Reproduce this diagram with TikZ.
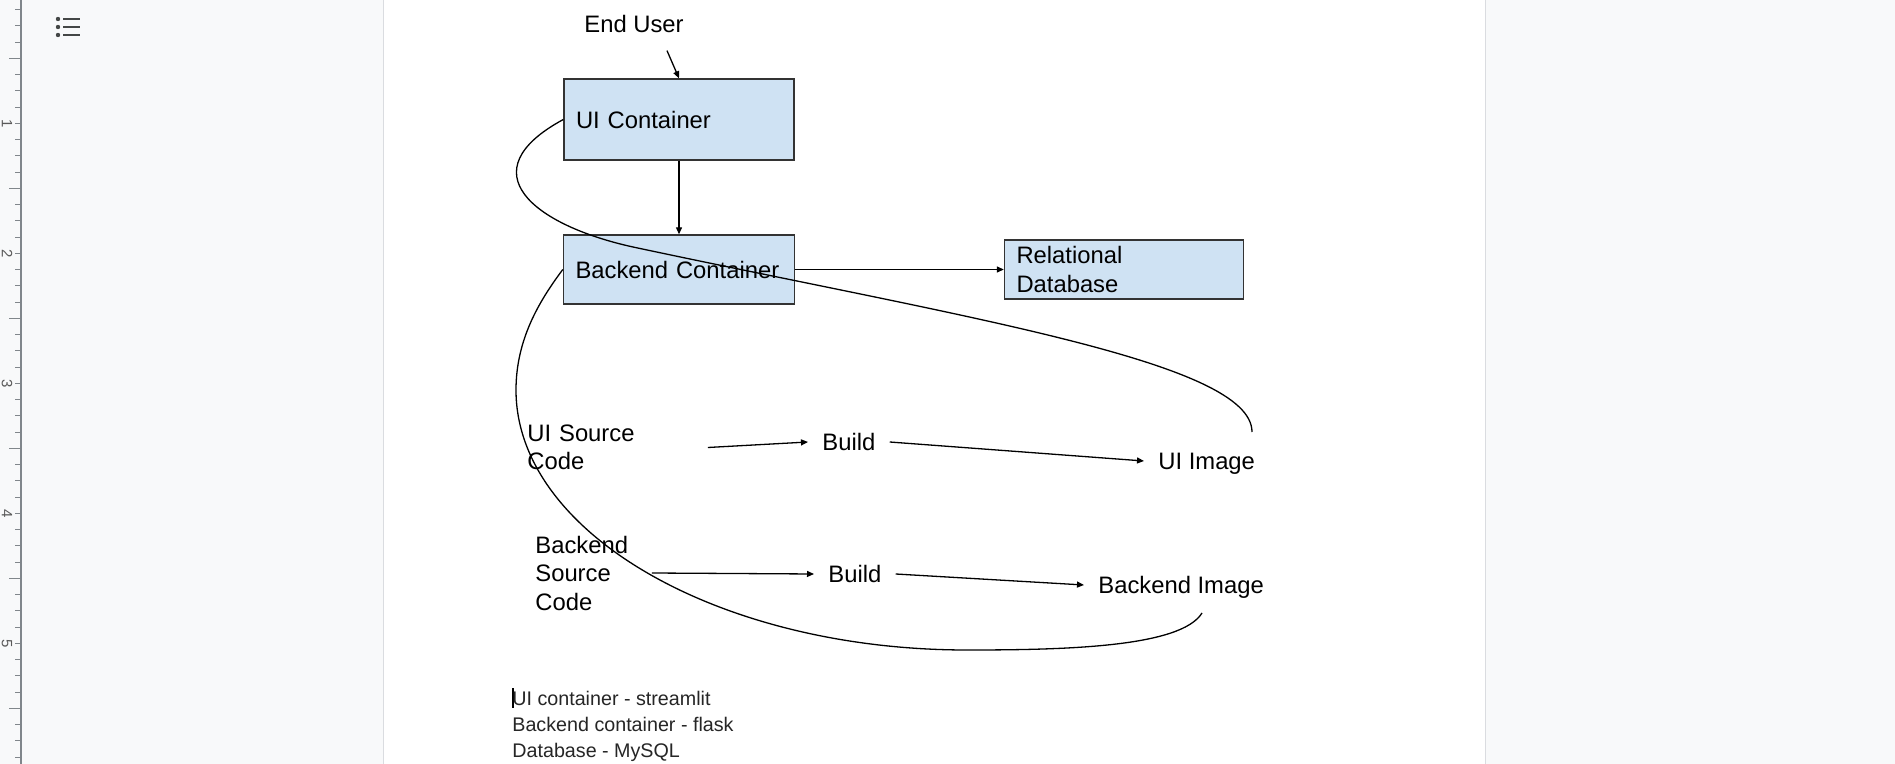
\documentclass[tikz,border=0pt]{standalone}
\usepackage{fontspec}
\setmainfont{Liberation Sans}
\usetikzlibrary{arrows.meta,positioning,calc}
\definecolor{boxblue}{HTML}{CFE2F3}
\definecolor{docgray}{HTML}{F8F9FA}
\definecolor{rulergray}{HTML}{80868B}
\definecolor{edgegray}{HTML}{DADCE0}
\definecolor{icongray}{HTML}{444746}

\begin{document}
\begin{tikzpicture}[%
    x=0.5pt, y=-0.5pt,
    >={Triangle[length=3.5pt,width=3pt]},
    on grid,
    every node/.style={font=\fontsize{11.9}{14.25}\selectfont},
    box/.style={draw=black!80, line width=0.7pt, fill=boxblue, align=left,
      inner xsep=6pt, inner ysep=0pt},
    lbl/.style={inner xsep=7pt, inner ysep=0pt, align=left, anchor=west},
    wire/.style={line width=0.65pt},
    tick/.style={rulergray, line width=0.5pt},
    rulernum/.style={font=\fontsize{7.5}{9}\selectfont, text=black!65, rotate=-90, inner sep=0pt},
    note/.style={font=\fontsize{9.85}{13}\selectfont, text=black!85, inner sep=0pt, anchor=base west}
  ]
  \useasboundingbox (0,0) rectangle (1895,764);
  \fill[docgray] (0,0) rectangle (1895,764);
  \fill[white] (383,0) rectangle (1485,764);
  \draw[edgegray, line width=0.5pt] (383,0) -- (383,764) (1485,0) -- (1485,764);

  \draw[rulergray, line width=1pt] (21,0) -- (21,764);
  \foreach \k in {1,...,47} \draw[tick] (15,{-6.7+16.25*\k}) -- (21,{-6.7+16.25*\k});
  \foreach \k in {4,12,...,44} \draw[tick] (9,{-6.7+16.25*\k}) -- (21,{-6.7+16.25*\k});
  \foreach \n in {1,...,5} \node[rulernum] (num\n) at (7,{-6.7+130*\n}) {\n};

  \foreach \y in {19,27,35}{
    \fill[icongray] (58,\y) circle (1.1pt);
    \draw[icongray, line width=1pt] (63,\y) -- (80,\y);
  }

  \node[inner sep=0pt] (enduser) at (634,23.5) {End User};
  \node[box, text width=103pt, minimum height=40.5pt] (uicont) at (679,119.5) {UI Container};
  \node[box, text width=103.5pt, minimum height=34.5pt] (becont) [below=75pt of uicont] {Backend Container};
  \node[box, text width=107.5pt, minimum height=29.5pt] (db) [right=222.5pt of becont] {Relational\\Database};

  \node[lbl, text width=83pt] (uisrc) at (513,447.5) {UI Source\\Code};
  \node[lbl] (build1) at (808,442) {Build};
  \node[lbl, text depth=0pt] (uiimg) at (1144,461) {UI Image};
  \node[lbl, text width=51pt] (besrc) at (521,573) {Backend\\Source\\Code};
  \node[lbl] (build2) at (814,574) {Build};
  \node[lbl, text depth=0pt] (beimg) at (1084,585) {Backend Image};

  \coordinate (uibend) at (633,247);
  \coordinate (uiend) at (1252,432);
  \coordinate (bebend) at (516,390);
  \coordinate (bebottom) at (967,650);
  \coordinate (beend) at (1202,613);

  \path[->, wire] ([xshift=16.5pt,yshift=-9pt]enduser.south) edge (uicont.north)
    (uicont.south) edge (becont.north)
    (becont.east) edge (db.west)
    (uisrc.east) edge (build1.west)
    (build1.east) edge (uiimg.west)
    (besrc.east) edge (build2.west)
    (build2.east) edge (beimg.west);

  \draw[wire] (uicont.west) .. controls +(-96,52) and +(-100,-22) .. (uibend)
    .. controls +(333,71) and +(0,-70) .. (uiend);
  \draw[wire] (becont.west) .. controls +(-24,32) and +(0,-50) .. (bebend)
    .. controls +(0,143) and +(-248,0) .. (bebottom)
    .. controls +(100,0) and +(-21,34) .. (beend);

  \draw[line width=0.6pt] (513,688) -- (513,708);
  \node[note] (note1) at (512,705) {UI container - streamlit};
  \node[note] (note2) at (512,731) {Backend container - flask};
  \node[note] (note3) at (512,757) {Database - MySQL};
\end{tikzpicture}
\end{document}
